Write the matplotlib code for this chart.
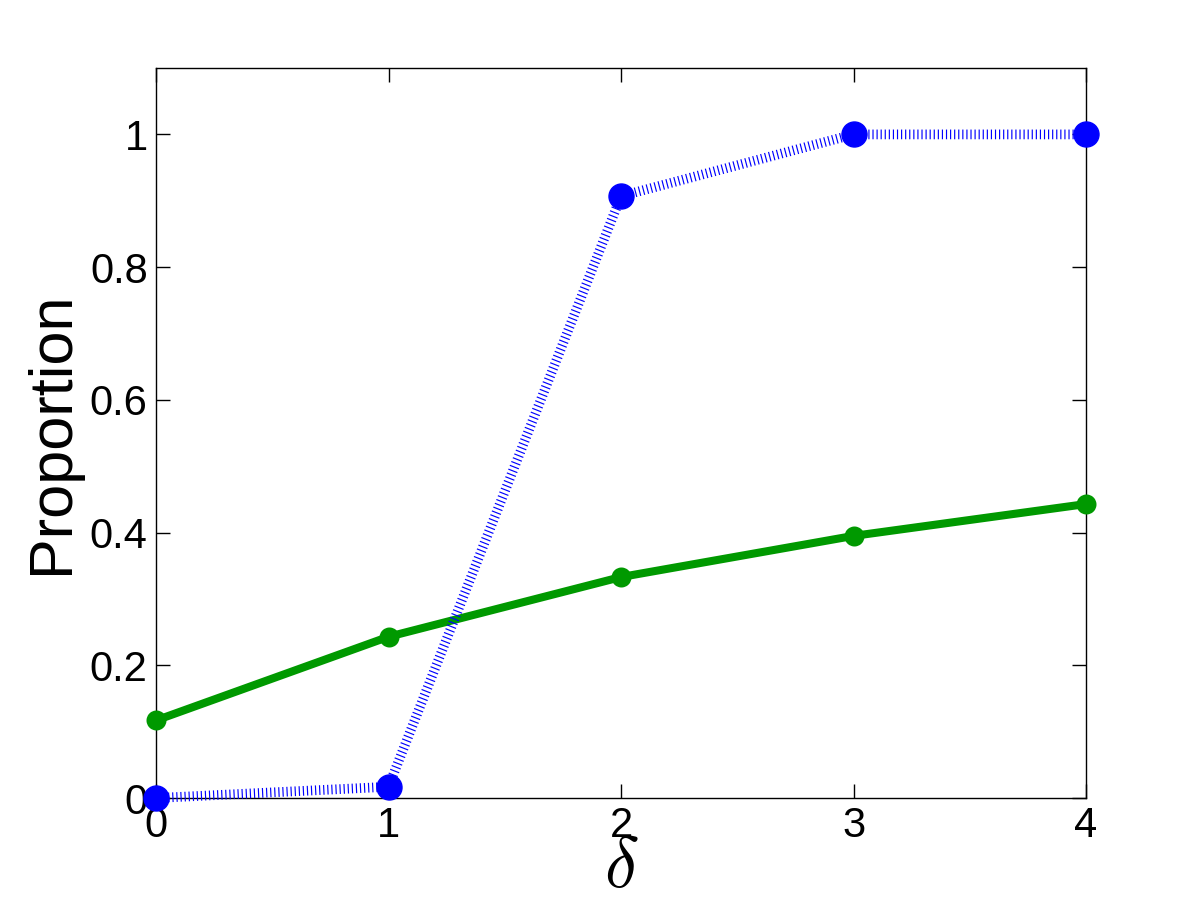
import matplotlib
matplotlib.use("Agg")
import matplotlib.pyplot as plt

plt.rcParams['font.family'] = ['Liberation Sans', 'DejaVu Sans']
plt.rcParams['mathtext.fontset'] = 'cm'

delta = [0, 1, 2, 3, 4]
blue_vals = [0.0, 0.017, 0.907, 1.0, 1.0]
green_vals = [0.117, 0.243, 0.333, 0.395, 0.443]
xticks = [0, 1, 2, 3, 4]
yticks = [0, 0.2, 0.4, 0.6, 0.8, 1]
ytick_labels = ['0', '0.2', '0.4', '0.6', '0.8', '1']

fig = plt.figure(figsize=(12, 9), dpi=100)
ax = fig.add_axes([0.13, 0.1133, 0.775, 0.8111])

ax.plot(delta, green_vals, color='#009900', linewidth=5.8, marker='o',
        markersize=8.7, markerfacecolor='none', markeredgecolor='#009900',
        markeredgewidth=5.7, zorder=3, clip_on=False)
ax.plot(delta, blue_vals, color='#0000ff', linewidth=7,
        linestyle=(0, (0.12, 0.3)), marker='o', markersize=18,
        markerfacecolor='#0000ff', markeredgecolor='#0000ff', zorder=4,
        clip_on=False)

ax.set_xlim(0, 4)
ax.set_ylim(0, 1.1)
ax.set_xticks(xticks)
ax.set_xticklabels([str(t) for t in xticks])
ax.set_yticks(yticks)
ax.set_yticklabels(ytick_labels)
ax.tick_params(direction='in', length=10, width=1, top=True, right=True,
               labelsize=30, pad=6)
for s in ax.spines.values():
    s.set_linewidth(1)

ax.set_ylabel('Proportion', fontsize=44, labelpad=6)
ax.set_xlabel(r'$\delta$', fontsize=52, labelpad=-8)

fig.savefig('out.png', dpi=100)
